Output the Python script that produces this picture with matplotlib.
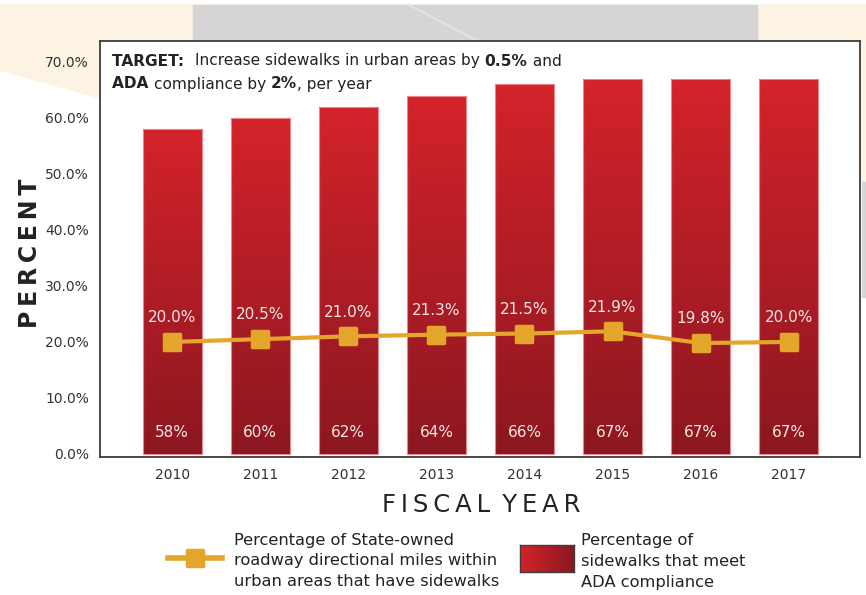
import numpy as np
import matplotlib.pyplot as plt
from matplotlib.patches import Rectangle, Polygon
from matplotlib.colors import LinearSegmentedColormap
from matplotlib.lines import Line2D
from matplotlib.markers import MarkerStyle

years = ["2010", "2011", "2012", "2013", "2014", "2015", "2016", "2017"]
ada_pct = [58, 60, 62, 64, 66, 67, 67, 67]
sidewalk_pct = [20.0, 20.5, 21.0, 21.3, 21.5, 21.9, 19.8, 20.0]
yticks = [0, 10, 20, 30, 40, 50, 60, 70]

plt.rcParams["font.family"] = ["DejaVu Sans"]

RED_TOP = "#d4232b"
RED_BOT = "#8c1720"
GOLD = "#e3a52a"
TXT = "#333333"
DARK = "#222222"

fig = plt.figure(figsize=(8.66, 5.95), dpi=100)
W, H = 866, 595


def fx(px):
    return px / W


def fy(py):
    return 1 - py / H


# decorative background
fig.patches.append(Polygon([(fx(0), fy(5)), (fx(866), fy(5)), (fx(866), fy(182)),
                            (fx(100), fy(182)), (fx(100), fy(98)), (fx(0), fy(70))],
                           closed=True, transform=fig.transFigure, color="#fcf3e3", zorder=0.2))
fig.patches.append(Rectangle((fx(193), fy(41)), fx(757 - 193), fy(5) - fy(41),
                             transform=fig.transFigure, color="#d6d4d5", zorder=0.3))
fig.lines.append(Line2D([fx(409), fx(478)], [fy(5), fy(41)], transform=fig.transFigure,
                        color="#e4e2e3", lw=1.5, zorder=0.4))
fig.patches.append(Rectangle((fx(862), fy(297)), fx(4), fy(182) - fy(297),
                             transform=fig.transFigure, color="#d6d4d5", zorder=0.3))

ax = fig.add_axes([fx(100), fy(457), fx(760), fy(41) - fy(457)])
ax.set_zorder(1)
ax.set_facecolor("white")
x = np.arange(len(years))
ax.set_xlim(-0.82, 7.81)
ax.set_ylim(-0.55, 73.75)

# bars with vertical gradient
cmap_v = LinearSegmentedColormap.from_list("redv", [RED_BOT, RED_TOP])
grad = np.linspace(0, 1, 256).reshape(-1, 1)
bw = 0.67
bars = ax.bar(x, ada_pct, width=bw, color="none", edgecolor="#e9848a", linewidth=0.8, zorder=3)
for b in bars:
    x0 = b.get_x()
    im = ax.imshow(grad, cmap=cmap_v, origin="lower", aspect="auto",
                   extent=(x0, x0 + b.get_width(), 0, b.get_height()), zorder=2)
    im.set_clip_path(b)

for xi, v in zip(x, ada_pct):
    ax.text(xi, 3.8, f"{v}%", ha="center", va="center", color="#f6e6e6",
            fontsize=11, zorder=5)

rsq = MarkerStyle("s", joinstyle="round")
ax.plot(x, sidewalk_pct, color=GOLD, lw=3, marker=rsq, markersize=11, mew=2.5,
        markerfacecolor=GOLD, markeredgecolor=GOLD, zorder=4)
for xi, v in zip(x, sidewalk_pct):
    ax.annotate(f"{v:.1f}%", (xi, v), xytext=(0, 12), textcoords="offset points",
                ha="center", va="bottom", color="#f6e6e6", fontsize=11, zorder=5)

ax.set_xticks(x)
ax.set_xticklabels(years)
ax.set_yticks(yticks)
ax.set_yticklabels([f"{t:.1f}%" for t in yticks])
ax.tick_params(length=0, labelsize=10, colors=TXT, pad=8)
for s in ax.spines.values():
    s.set_color("#3d3d3d")
    s.set_linewidth(1.3)

# target note
fs_t = 11.1
t1 = ax.text(12 / 760, 1 - (61 - 41) / 416, "TARGET:  ", transform=ax.transAxes,
             fontsize=fs_t, fontweight="bold", color=DARK, va="center", zorder=6)
t2 = ax.annotate("Increase sidewalks in urban areas by ", xy=(1, 0), xycoords=t1, va="bottom",
                 fontsize=fs_t, color=DARK, zorder=6)
t3 = ax.annotate("0.5%", xy=(1, 0), xycoords=t2, va="bottom", fontsize=fs_t,
                 fontweight="bold", color=DARK, zorder=6)
ax.annotate(" and", xy=(1, 0), xycoords=t3, va="bottom", fontsize=fs_t, color=DARK, zorder=6)
t4 = ax.text(12 / 760, 1 - (84 - 41) / 416, "ADA ", transform=ax.transAxes,
             fontsize=fs_t, fontweight="bold", color=DARK, va="center", zorder=6)
t5 = ax.annotate("compliance by ", xy=(1, 0), xycoords=t4, va="bottom", fontsize=fs_t,
                 color=DARK, zorder=6)
t6 = ax.annotate("2%", xy=(1, 0), xycoords=t5, va="bottom", fontsize=fs_t,
                 fontweight="bold", color=DARK, zorder=6)
ax.annotate(", per year", xy=(1, 0), xycoords=t6, va="bottom", fontsize=fs_t,
            color=DARK, zorder=6)

# axis titles
ts = "\u2009"
fig.text(fx(30), fy(253), ts.join("PERCENT"), rotation=90, ha="center", va="center",
         fontsize=17, fontweight="bold", color=DARK)
fig.text(fx(481), fy(505), ts.join("FISCAL") + "\u2002" + ts.join("YEAR"), ha="center",
         va="center", fontsize=17.5, color=DARK)

# legend
fig.lines.append(Line2D([fx(168), fx(195), fx(222)], [fy(558)] * 3, transform=fig.transFigure,
                        color=GOLD, lw=4, marker=rsq, markersize=11, mew=2.5, markevery=[1],
                        markerfacecolor=GOLD, markeredgecolor=GOLD))
fig.text(fx(234), fy(561), "Percentage of State-owned\nroadway directional miles within\n"
         "urban areas that have sidewalks", ha="left", va="center", fontsize=11.7,
         color=DARK, linespacing=1.5)
lax = fig.add_axes([fx(520), fy(572), fx(54), fy(545) - fy(572)])
lax.imshow(np.linspace(0, 1, 256).reshape(1, -1), cmap=LinearSegmentedColormap.from_list(
    "redh", [RED_TOP, RED_BOT]), aspect="auto")
lax.set_xticks([])
lax.set_yticks([])
for s in lax.spines.values():
    s.set_color("#3d3d3d")
    s.set_linewidth(1)
fig.text(fx(581), fy(561), "Percentage of\nsidewalks that meet\nADA compliance", ha="left",
         va="center", fontsize=11.7, color=DARK, linespacing=1.5)

fig.savefig("out.png", dpi=100, facecolor="white")
